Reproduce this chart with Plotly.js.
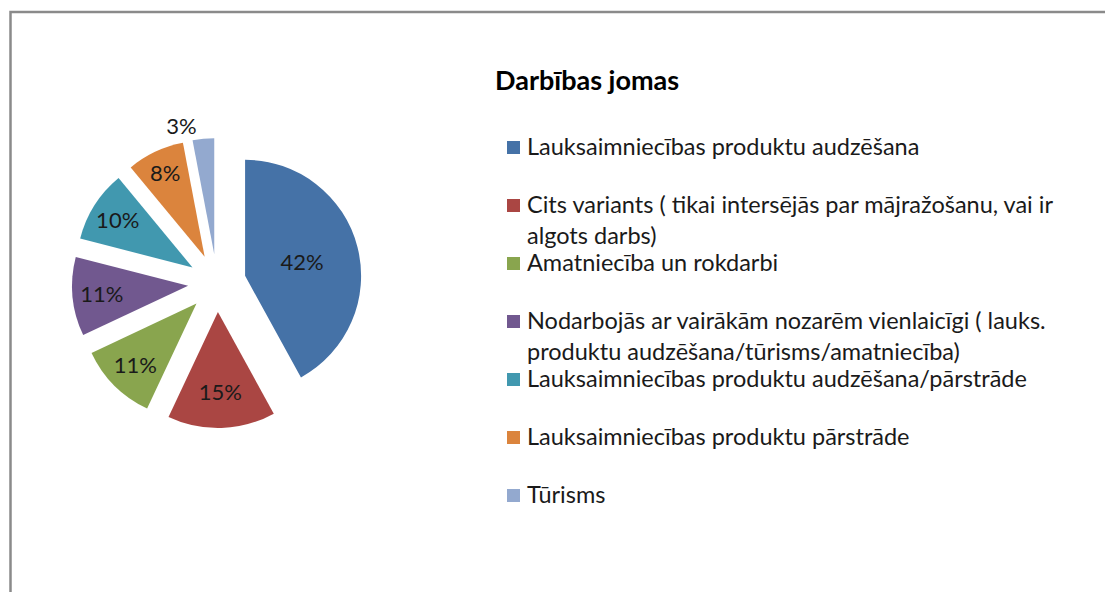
<!DOCTYPE html>
<html>
<head>
<meta charset="utf-8">
<script src="https://cdn.plot.ly/plotly-3.0.1.min.js"></script>
<style>
  html, body { margin: 0; padding: 0; background: #ffffff; }
  #chart { width: 1105px; height: 592px; }
</style>
</head>
<body>
<div id="chart"></div>
<script>
// ---- data ----
const categories = [
  "Lauksaimniecības produktu audzēšana",
  "Cits variants ( tikai intersējās par mājražošanu, vai ir\nalgots darbs)",
  "Amatniecība un rokdarbi",
  "Nodarbojās ar vairākām nozarēm vienlaicīgi ( lauks.\nproduktu audzēšana/tūrisms/amatniecība)",
  "Lauksaimniecības produktu audzēšana/pārstrāde",
  "Lauksaimniecības produktu pārstrāde",
  "Tūrisms"
];
const shares = [42, 15, 11, 11, 10, 8, 3];
const sliceColors = ["#4572A7", "#AA4643", "#89A54E", "#71588F", "#4198AF", "#DB843D", "#93A9CF"];
const legendTitle = "Darbības jomas";

// ---- layout helpers ----
const W = 1105, H = 592;
const px = v => v / W;
const py = v => 1 - v / H;

const FONT = "Lato, 'Open Sans', sans-serif";
const LEG_SIZE = 23.5;

const pieTrace = {
  type: "pie",
  labels: categories.map(c => c.replace("\n", " ")),
  values: shares,
  sort: false,
  direction: "clockwise",
  rotation: 0,
  pull: shares.map(() => 0.25),
  marker: { colors: sliceColors, line: { width: 0 } },
  textinfo: "percent",
  texttemplate: "%{value}%",
  textposition: shares.map((v, i) => i === shares.length - 1 ? "outside" : "inside"),
  insidetextorientation: "horizontal",
  textfont: { family: FONT, size: 22, color: "#1a1a1a" },
  outsidetextfont: { family: FONT, size: 22, color: "#1a1a1a" },
  hoverinfo: "label+percent",
  showlegend: false,
  domain: { x: [px(217 - 145), px(217 + 145)], y: [py(283 + 145), py(283 - 145)] }
};

const shapes = [
  // outer chart-area border (top & left visible)
  { type: "rect", xref: "paper", yref: "paper",
    x0: px(10.5), x1: px(W + 20), y0: py(H + 20), y1: py(12),
    line: { color: "#8a8a8a", width: 2.5 }, fillcolor: "rgba(0,0,0,0)" }
];
const annotations = [
  { xref: "paper", yref: "paper", x: px(493), y: py(80), xanchor: "left", yanchor: "middle",
    text: "<b>" + legendTitle + "</b>", showarrow: false,
    font: { family: FONT, size: 27, color: "#000000" } }
];

const itemTop = 147, itemStep = 58, lineH = LEG_SIZE * 1.3;
categories.forEach((c, i) => {
  const yc = itemTop + i * itemStep;
  const lines = c.split("\n");
  shapes.push({ type: "rect", xref: "paper", yref: "paper",
    x0: px(507), x1: px(520), y0: py(yc + 7), y1: py(yc - 6),
    fillcolor: sliceColors[i], line: { width: 0 } });
  annotations.push({ xref: "paper", yref: "paper", x: px(525),
    y: py(yc - 1 + (lines.length - 1) * lineH / 2),
    xanchor: "left", yanchor: "middle", align: "left", text: lines.join("<br>"), showarrow: false,
    font: { family: FONT, size: LEG_SIZE, color: "#1a1a1a" } });
});

const layout = {
  width: W, height: H,
  margin: { l: 0, r: 0, t: 0, b: 0 },
  paper_bgcolor: "#ffffff",
  plot_bgcolor: "#ffffff",
  showlegend: false,
  shapes: shapes,
  annotations: annotations
};

Plotly.newPlot("chart", [pieTrace], layout, { displayModeBar: false, staticPlot: true });
</script>
</body>
</html>
